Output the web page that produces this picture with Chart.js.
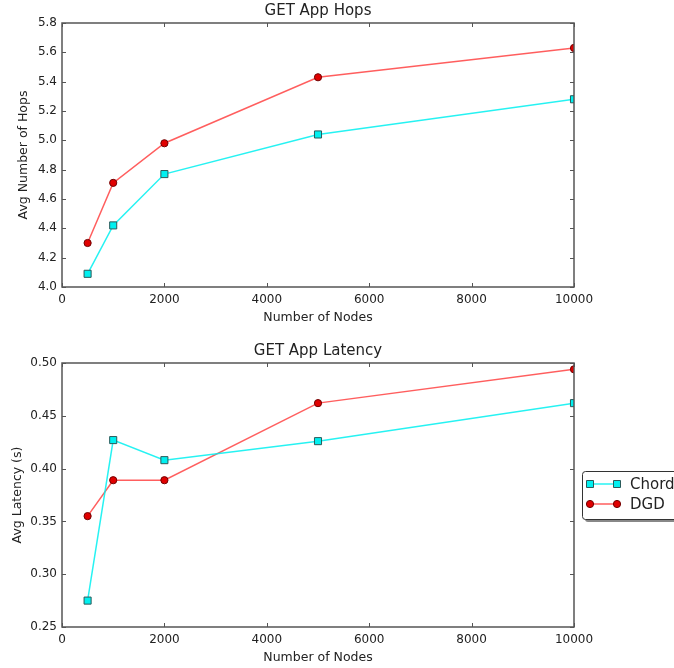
<!DOCTYPE html>
<html>
<head>
<meta charset="utf-8">
<script src="https://cdn.jsdelivr.net/npm/chart.js@4/dist/chart.umd.min.js"></script>
<style>
  body { margin: 0; background: #fff; }
  #wrap { position: relative; width: 674px; height: 668px; overflow: hidden; background: #fff; }
  .panel { position: absolute; left: 0; width: 674px; height: 328px; }
</style>
</head>
<body>
<div id="wrap">
  <div class="panel" style="top:0"><canvas id="hops-chart"></canvas></div>
  <div class="panel" style="top:340px"><canvas id="latency-chart"></canvas></div>
</div>
<script>
// values
const nodes = [500, 1000, 2000, 5000, 10000];
const chordHops = [4.09, 4.42, 4.77, 5.04, 5.28];
const dgdHops = [4.30, 4.71, 4.98, 5.43, 5.63];
const chordLatency = [0.275, 0.427, 0.408, 0.426, 0.462];
const dgdLatency = [0.355, 0.389, 0.389, 0.462, 0.494];
const seriesNames = ['Chord', 'DGD'];

const FONT = 'DejaVu Sans';
const TEXT = '#222';
const FRAME = '#555';

const chordStyle = {
  borderColor: 'rgba(0, 240, 240, 0.85)',
  backgroundColor: '#00f0f0',
  pointBorderColor: '#2a5a5a',
  pointStyle: 'rect',
  pointRadius: 5,
};
const dgdStyle = {
  borderColor: 'rgba(255, 40, 40, 0.75)',
  backgroundColor: '#e00000',
  pointBorderColor: '#700000',
  pointStyle: 'circle',
  pointRadius: 3.6,
};

function makeDataset(label, ys, style) {
  return {
    label,
    data: nodes.map((x, i) => ({ x, y: ys[i] })),
    borderWidth: 1.5,
    pointBorderWidth: 1,
    pointHoverRadius: style.pointRadius,
    pointBackgroundColor: style.backgroundColor,
    ...style,
  };
}

// matplotlib-like frame with inward ticks on all four sides
const framePlugin = {
  id: 'frame',
  afterDatasetsDraw(chart) {
    const { ctx, chartArea: a, scales } = chart;
    ctx.save();
    ctx.strokeStyle = FRAME;
    ctx.lineWidth = 1.5;
    ctx.strokeRect(a.left, a.top, a.right - a.left, a.bottom - a.top);
    ctx.lineWidth = 1;
    ctx.beginPath();
    scales.x.ticks.forEach(t => {
      const px = Math.round(scales.x.getPixelForValue(t.value)) + 0.5;
      ctx.moveTo(px, a.bottom); ctx.lineTo(px, a.bottom - 4);
      ctx.moveTo(px, a.top); ctx.lineTo(px, a.top + 4);
    });
    scales.y.ticks.forEach(t => {
      const py = Math.round(scales.y.getPixelForValue(t.value)) + 0.5;
      ctx.moveTo(a.left, py); ctx.lineTo(a.left + 4, py);
      ctx.moveTo(a.right, py); ctx.lineTo(a.right - 4, py);
    });
    ctx.stroke();
    ctx.restore();
  }
};

// legend box hanging off the right edge, like the original
const sideLegend = {
  id: 'sideLegend',
  afterDraw(chart) {
    if (!chart.options.plugins.sideLegend.show) return;
    const { ctx } = chart;
    const bx = 582, by = 131, bw = 130, bh = 48;
    ctx.save();
    ctx.fillStyle = '#888';
    ctx.beginPath(); ctx.roundRect(bx + 3, by + 3, bw, bh, 3); ctx.fill();
    ctx.fillStyle = '#fff';
    ctx.strokeStyle = '#333';
    ctx.lineWidth = 1;
    ctx.beginPath(); ctx.roundRect(bx + 0.5, by + 0.5, bw, bh, 3); ctx.fill(); ctx.stroke();
    chart.data.datasets.forEach((ds, i) => {
      const y = by + 13 + i * 20;
      ctx.strokeStyle = ds.borderColor;
      ctx.lineWidth = 1.5;
      ctx.beginPath(); ctx.moveTo(590, y); ctx.lineTo(617, y); ctx.stroke();
      [590, 617].forEach(x => {
        ctx.fillStyle = ds.pointBackgroundColor;
        ctx.strokeStyle = ds.pointBorderColor;
        ctx.lineWidth = 1;
        ctx.beginPath();
        if (ds.pointStyle === 'rect') ctx.rect(x - 3.5, y - 3.5, 7, 7);
        else ctx.arc(x, y, 3.6, 0, Math.PI * 2);
        ctx.fill(); ctx.stroke();
      });
      ctx.fillStyle = TEXT;
      ctx.font = '15px ' + FONT;
      ctx.textBaseline = 'middle';
      ctx.fillText(ds.label, 630, y + 1);
    });
    ctx.restore();
  }
};

function makeChart(el, opts) {
  return new Chart(el, {
    type: 'line',
    data: {
      datasets: [
        makeDataset(seriesNames[0], opts.chord, chordStyle),
        makeDataset(seriesNames[1], opts.dgd, dgdStyle),
      ]
    },
    plugins: [framePlugin, sideLegend],
    options: {
      responsive: true,
      maintainAspectRatio: false,
      animation: false,
      layout: { padding: { left: opts.padLeft, right: 100, top: 0, bottom: 0 } },
      plugins: {
        legend: { display: false },
        tooltip: { enabled: false },
        sideLegend: { show: opts.legend },
        title: {
          display: true,
          text: opts.title,
          fullSize: false,
          color: TEXT,
          font: { family: FONT, size: 15, weight: 'normal' },
          padding: { top: 2, bottom: 3 }
        }
      },
      scales: {
        x: {
          type: 'linear',
          min: 0, max: 10000,
          grid: { display: false, drawTicks: false },
          border: { display: false },
          ticks: {
            stepSize: 2000, padding: 6, color: TEXT, font: { family: FONT, size: 12 }, maxRotation: 0,
            callback: v => String(v)
          },
          title: {
            display: true, text: 'Number of Nodes', color: TEXT,
            font: { family: FONT, size: 12.5 }, padding: { top: 4, bottom: 3 }
          },
          afterFit: s => { s.height = 41; }
        },
        y: {
          min: opts.yMin, max: opts.yMax,
          grid: { display: false, drawTicks: false },
          border: { display: false },
          ticks: {
            stepSize: opts.yStep, padding: 5, color: TEXT, font: { family: FONT, size: 12 },
            callback: v => v.toFixed(opts.digits)
          },
          title: { display: true, text: opts.yTitle, color: TEXT, font: { family: FONT, size: 12.5 } },
          afterFit: s => { s.width = 62 - opts.padLeft; }
        }
      }
    }
  });
}

makeChart(document.getElementById('hops-chart'), {
  title: 'GET App Hops', yTitle: 'Avg Number of Hops',
  chord: chordHops, dgd: dgdHops,
  yMin: 4.0, yMax: 5.8, yStep: 0.2, digits: 1, padLeft: 12, legend: false
});

makeChart(document.getElementById('latency-chart'), {
  title: 'GET App Latency', yTitle: 'Avg Latency (s)',
  chord: chordLatency, dgd: dgdLatency,
  yMin: 0.25, yMax: 0.5, yStep: 0.05, digits: 2, padLeft: 6, legend: true
});
</script>
</body>
</html>
